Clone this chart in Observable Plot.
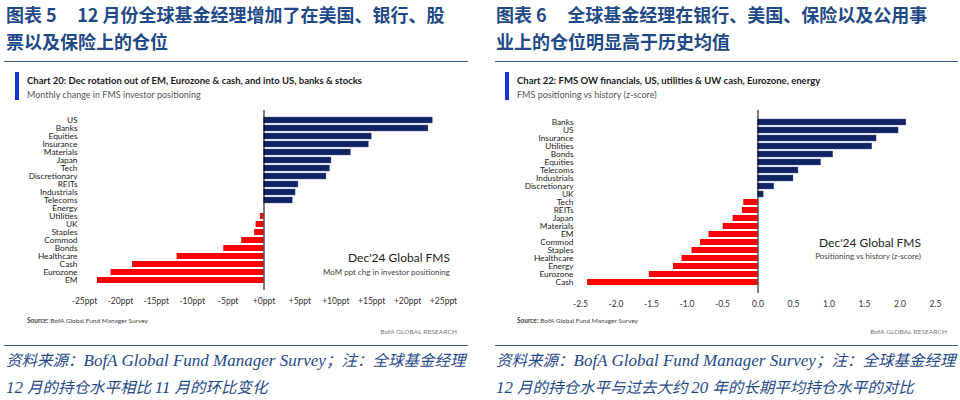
<!DOCTYPE html>
<html>
<head>
<meta charset="utf-8">
<script src="https://cdn.jsdelivr.net/npm/d3@7"></script>
<script src="https://cdn.jsdelivr.net/npm/@observablehq/plot@0.6"></script>
<style>
  body { margin: 0; background: #fff; }
  #root { position: relative; width: 960px; height: 400px; overflow: hidden; background: #fff; }
  .abs { position: absolute; white-space: nowrap; }
  .ttl { font-family: "Noto Sans CJK SC", sans-serif; font-weight: 700; font-size: 18px; color: #1f4a88; line-height: 27px; }
  .rule { position: absolute; height: 0; border-top: 1.6px solid #3a5e9c; }
  .accent { position: absolute; width: 4px; background: #1536d6; }
  .ctitle { font-family: Lato, "Open Sans", sans-serif; font-weight: 700; font-size: 9.5px; color: #1a1a1a; }
  .csub { font-family: Lato, "Open Sans", sans-serif; font-size: 9px; color: #555; }
  .src { font-family: Lato, sans-serif; font-size: 6.5px; color: #444; }
  .brand { font-family: Lato, sans-serif; font-size: 6.5px; color: #777; letter-spacing: 0.1px; }
  .ann1 { font-family: Lato, sans-serif; font-size: 12px; color: #222; text-align: right; }
  .ann2 { font-family: Lato, sans-serif; font-size: 8px; color: #444; text-align: right; }
  .cap { font-family: "Liberation Serif", "Noto Sans CJK SC", serif; font-style: italic; font-size: 15.5px; color: #1f4a88; line-height: 27px; }
  .cap .lat { font-size: 17px; }
</style>
</head>
<body>
<div id="root"></div>
<script>
// ---- data ----
const leftCats = ["US","Banks","Equities","Insurance","Materials","Japan","Tech","Discretionary","REITs","Industrials","Telecoms","Energy","Utilities","UK","Staples","Commod","Bonds","Healthcare","Cash","Eurozone","EM"];
const leftVals = [23.5,22.9,15.0,14.6,12.1,9.4,9.2,8.7,4.8,4.4,4.0,0,-0.5,-1.1,-1.3,-3.1,-5.6,-12.1,-18.3,-21.3,-23.2];
const leftTicks = [-25,-20,-15,-10,-5,0,5,10,15,20,25];

const rightCats = ["Banks","US","Insurance","Utilities","Bonds","Equities","Telecoms","Industrials","Discretionary","UK","Tech","REITs","Japan","Materials","EM","Commod","Staples","Healthcare","Energy","Eurozone","Cash"];
const rightVals = [2.09,1.98,1.67,1.61,1.06,0.89,0.57,0.50,0.23,0.08,-0.20,-0.22,-0.35,-0.49,-0.69,-0.81,-0.93,-1.07,-1.19,-1.53,-2.40];
const rightTicks = [-2.5,-2.0,-1.5,-1.0,-0.5,0,0.5,1.0,1.5,2.0,2.5];

const NAVY = "#0f2463", RED = "#ff0000";
const root = document.getElementById("root");

function addDiv(cls, left, top, html, extra) {
  const d = document.createElement("div");
  d.className = "abs " + cls;
  d.style.left = left + "px"; d.style.top = top + "px";
  d.innerHTML = html;
  if (extra) Object.assign(d.style, extra);
  root.appendChild(d);
  return d;
}

function makeChart(cats, vals, ticks, fmt, opts) {
  const data = cats.map((c, i) => ({c, v: vals[i]}));
  const chart = Plot.plot({
    width: opts.width, height: opts.height,
    marginLeft: opts.ml, marginRight: opts.mr, marginTop: opts.mt, marginBottom: opts.mb,
    style: {fontFamily: '"Liberation Sans Narrow", Lato, sans-serif', fontSize: "8.3px", color: "#222", background: "transparent"},
    x: {domain: [ticks[0], ticks[ticks.length - 1]], ticks: ticks, tickFormat: fmt, label: null},
    y: {domain: cats, padding: 0.3, label: null},
    marks: [
      Plot.axisX({ticks: ticks, tickFormat: fmt, tickSize: 0, tickPadding: 7, fontSize: 8.5, fill: "#333"}),
      Plot.axisY({tickSize: 0, tickPadding: 7, fill: "#222"}),
      Plot.barX(data.filter(d => d.v > 0), {x: "v", y: "c", fill: NAVY, stroke: "#5d6b9c", strokeWidth: 0.4}),
      Plot.barX(data.filter(d => d.v < 0), {x: "v", y: "c", fill: RED}),
      Plot.ruleX([0], {stroke: "#000", strokeWidth: 1})
    ]
  });
  chart.style.position = "absolute";
  chart.style.left = opts.left + "px";
  chart.style.top = opts.top + "px";
  root.appendChild(chart);
}

// ---- left panel ----
addDiv("ttl", 6, 1, "图表 5&nbsp;&nbsp;&nbsp;&nbsp;&nbsp;12 月份全球基金经理增加了在美国、银行、股<br>票以及保险上的仓位");
root.insertAdjacentHTML("beforeend", '<div class="rule" style="left:4px;top:61px;width:464px"></div>');
root.insertAdjacentHTML("beforeend", '<div class="accent" style="left:15px;top:72px;height:28px"></div>');
addDiv("ctitle", 27, 75, "Chart 20: Dec rotation out of EM, Eurozone &amp; cash, and into US, banks &amp; stocks");
addDiv("csub", 27, 89, "Monthly change in FMS investor positioning");
makeChart(leftCats, leftVals, leftTicks, d => (d >= 0 ? "+" : "-") + Math.abs(d) + "ppt",
  {left: 0, top: 105, width: 470, height: 215, ml: 84, mr: 27, mt: 5, mb: 30});
addDiv("ann1", 0, 250, "Dec'24 Global FMS", {width: "450px"});
addDiv("ann2", 0, 267, "MoM ppt chg in investor positioning", {width: "450px"});
addDiv("src", 27, 317, "<b>Source:</b> BofA Global Fund Manager Survey");
addDiv("brand", 0, 328, "BofA GLOBAL RESEARCH", {width: "457px", textAlign: "right"});
root.insertAdjacentHTML("beforeend", '<div class="rule" style="left:4px;top:345px;width:464px"></div>');
addDiv("cap", 6, 347, '资料来源：<span class="lat">BofA Global Fund Manager Survey</span>；注：全球基金经理<br><span class="lat">12</span> 月的持仓水平相比 <span class="lat">11</span> 月的环比变化');

// ---- right panel ----
addDiv("ttl", 496, 1, "图表 6&nbsp;&nbsp;&nbsp;&nbsp;&nbsp;全球基金经理在银行、美国、保险以及公用事<br>业上的仓位明显高于历史均值");
root.insertAdjacentHTML("beforeend", '<div class="rule" style="left:495px;top:61px;width:463px"></div>');
root.insertAdjacentHTML("beforeend", '<div class="accent" style="left:505px;top:72px;height:28px"></div>');
addDiv("ctitle", 517, 75, "Chart 22: FMS OW financials, US, utilities &amp; UW cash, Eurozone, energy");
addDiv("csub", 517, 89, "FMS positioning vs history (z-score)");
makeChart(rightCats, rightVals, rightTicks, d => d.toFixed(1),
  {left: 480, top: 105, width: 480, height: 218, ml: 100, mr: 25, mt: 5, mb: 30});
addDiv("ann1", 480, 235, "Dec'24 Global FMS", {width: "441px"});
addDiv("ann2", 480, 251, "Positioning vs history (z-score)", {width: "441px"});
addDiv("src", 517, 317, "<b>Source:</b> BofA Global Fund Manager Survey");
addDiv("brand", 480, 328, "BofA GLOBAL RESEARCH", {width: "467px", textAlign: "right"});
root.insertAdjacentHTML("beforeend", '<div class="rule" style="left:495px;top:345px;width:463px"></div>');
addDiv("cap", 496, 347, '资料来源：<span class="lat">BofA Global Fund Manager Survey</span>；注：全球基金经理<br><span class="lat">12</span> 月的持仓水平与过去大约 <span class="lat">20</span> 年的长期平均持仓水平的对比');
</script>
</body>
</html>
